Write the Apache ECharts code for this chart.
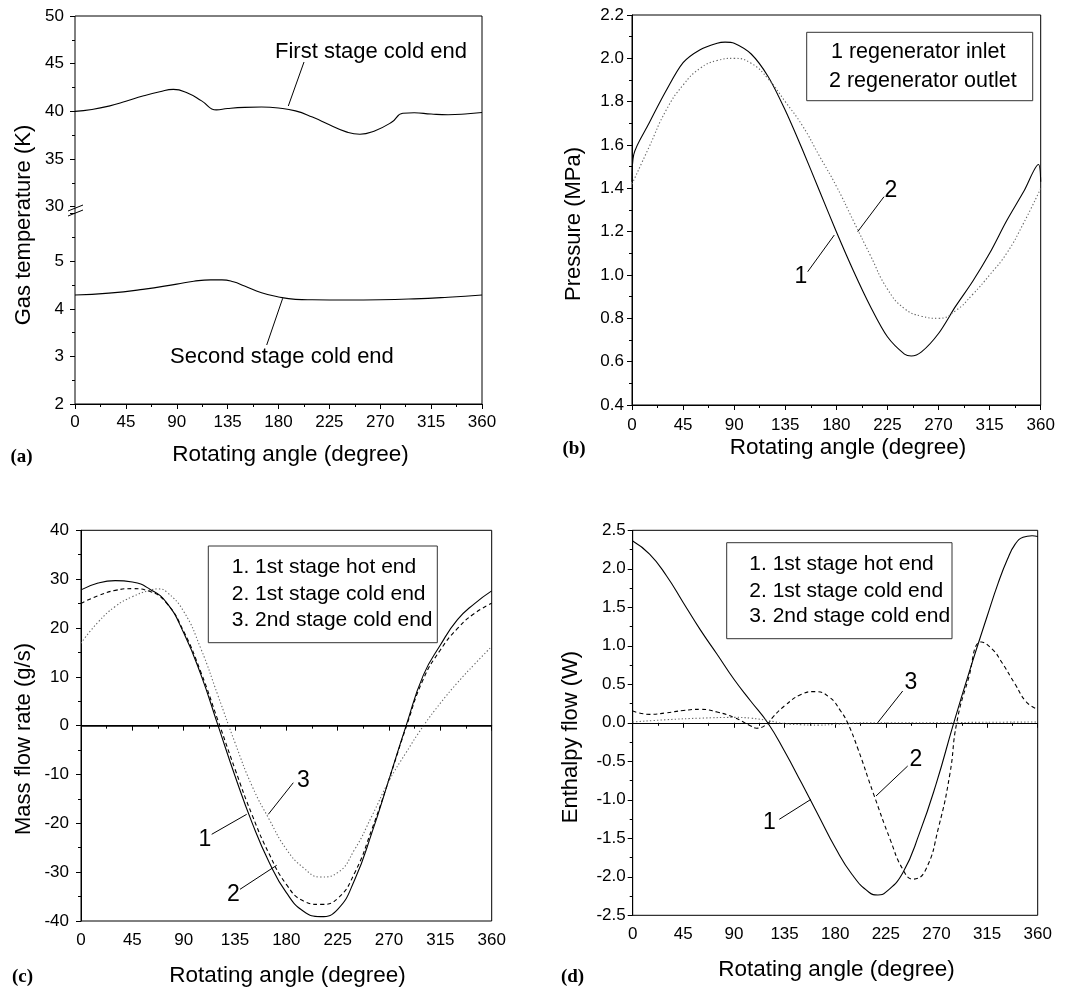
<!DOCTYPE html>
<html><head><meta charset="utf-8">
<script src="https://cdn.jsdelivr.net/npm/echarts@6/dist/echarts.min.js"></script>
<style>html,body{margin:0;padding:0;background:#fff}#c{width:1072px;height:992px}</style>
</head><body><div id="c"></div>
<script>
// ---------- DATA ----------
const xTickLabels = [0, 45, 90, 135, 180, 225, 270, 315, 360];

// (a) gas temperature
const aFirstX = [0,15,30,45,60,75,87,100,112,125,135,150,165,180,195,210,225,240,252,265,280,290,300,315,330,345,360];
const aFirstY = [40.0,40.2,40.55,41.05,41.6,42.05,42.3,41.9,41.1,40.15,40.3,40.42,40.45,40.35,40.05,39.4,38.6,37.85,37.6,37.95,38.85,39.8,39.85,39.72,39.65,39.72,39.88];
const aSecondX = [0,30,60,90,105,120,130,140,150,165,180,195,210,240,270,300,330,360];
const aSecondY = [4.29,4.33,4.41,4.52,4.58,4.61,4.61,4.57,4.48,4.34,4.25,4.20,4.19,4.185,4.19,4.21,4.245,4.29];

// (b) pressure
const bInletX = [0,1.5,15,30,45,60,75,82,90,105,120,135,150,165,180,195,210,225,240,246,255,270,285,300,315,330,345,358,360];
const bInletY = [1.43,1.555,1.70,1.85,1.98,2.04,2.07,2.075,2.07,2.02,1.915,1.76,1.58,1.39,1.20,1.02,0.855,0.715,0.635,0.626,0.645,0.73,0.855,0.97,1.10,1.25,1.385,1.51,1.43];
const bOutletX = [0,15,30,45,60,75,90,105,120,135,150,165,180,195,210,225,240,255,270,285,300,315,330,345,360];
const bOutletY = [1.42,1.59,1.76,1.877,1.954,1.99,2.0,1.977,1.905,1.80,1.69,1.55,1.41,1.25,1.09,0.935,0.845,0.81,0.80,0.835,0.91,1.0,1.10,1.24,1.40];

// (c) mass flow rate
const cX = [0,15,30,45,60,75,90,105,120,135,150,165,180,195,210,225,240,255,270,285,300,315,330,345,360];
const cHot1 = [27.8,29.2,29.7,29.4,28.0,25.2,19.0,10.5,0.1,-10.3,-19.9,-28.0,-34.2,-38.0,-39.1,-37.6,-31.5,-21.9,-11.0,0.0,10.3,16.5,21.7,25.0,27.6];
const cCold1 = [25.05,26.6,27.7,28.05,27.5,25.1,19.3,11.0,1.1,-8.9,-18.3,-26.3,-32.5,-35.9,-36.6,-35.4,-30.1,-21.2,-11.0,-0.3,9.5,15.5,19.9,23.0,25.05];
const cCold2X = [0,15,30,45,60,68,75,90,105,120,135,150,165,180,195,210,225,240,255,270,285,300,315,330,345,360];
const cCold2 = [16.9,21.2,24.4,26.4,27.7,28.0,27.4,23.4,15.8,6.2,-3.5,-12.4,-19.2,-25.3,-29.1,-31.0,-30.1,-25.3,-18.5,-11.3,-5.5,-0.1,4.6,8.8,12.6,16.2];

// (d) enthalpy flow
const dHotX = [0,15,30,45,60,75,90,105,120,135,150,165,180,195,210,218,225,240,255,270,285,300,315,325,333,340,347,355,360];
const dHotY = [2.36,2.19,1.91,1.56,1.21,0.89,0.565,0.28,0.0,-0.37,-0.78,-1.2,-1.62,-1.97,-2.2,-2.236,-2.2,-1.95,-1.43,-0.78,-0.02,0.7,1.38,1.82,2.12,2.32,2.41,2.43,2.42];
const dCold1X = [0,15,30,45,60,75,90,105,110,120,125,135,150,162,175,185,191,200,214,229,240,249,260,272,282,288,298,310,320,327,340,350,360];
const dCold1Y = [0.153,0.11,0.13,0.16,0.175,0.14,0.07,-0.04,-0.07,-0.01,0.08,0.22,0.37,0.405,0.33,0.15,0.0,-0.33,-0.92,-1.52,-1.9,-2.03,-1.92,-1.35,-0.66,0.0,0.55,1.05,0.95,0.81,0.5,0.27,0.175];
const dCold2X = [0,30,60,90,105,120,135,150,165,180,195,210,240,270,300,330,360];
const dCold2Y = [0.01,0.04,0.06,0.07,0.06,0.03,-0.01,-0.025,-0.03,-0.02,-0.005,0.0,0.0,0.0,0.005,0.008,0.01];

const legendB = ['1 regenerator inlet', '2 regenerator outlet'];
const legendCD = ['1. 1st stage hot end', '2. 1st stage cold end', '3. 2nd stage cold end'];
const xTitle = 'Rotating angle (degree)';
const yTitles = ['Gas temperature (K)', 'Pressure (MPa)', 'Mass flow rate (g/s)', 'Enthalpy flow (W)'];

// ---------- CHART ----------
const FONT = '"Liberation Sans", Arial, sans-serif';
const zip = (xs, ys) => xs.map((x, i) => [x, ys[i]]);

const SOLID = {color: '#000', width: 1.1, type: 'solid'};
const DASH = {color: '#000', width: 1.1, type: [4, 3]};
const DOT = {color: '#666', width: 1.1, type: [1.3, 2.2]};

function xAx(gi, show, margin) {
  return {
    type: 'value', gridIndex: gi, min: 0, max: 360, interval: 45, show: show,
    axisLine: {show: true, lineStyle: {color: '#000', width: 1}},
    axisTick: {show: true, length: 5, lineStyle: {color: '#000'}},
    minorTick: {show: true, splitNumber: 2, length: 3, lineStyle: {color: '#000'}},
    splitLine: {show: false}, minorSplitLine: {show: false},
    axisLabel: {color: '#000', fontSize: 17, fontFamily: FONT, margin: margin,
      formatter: v => xTickLabels.indexOf(v) >= 0 ? String(v) : ''}
  };
}
function yAx(gi, min, max, interval, margin, fmt, showLine) {
  return {
    type: 'value', gridIndex: gi, min: min, max: max, interval: interval,
    axisLine: {show: showLine !== false, lineStyle: {color: '#000', width: 1}},
    axisTick: {show: true, length: 5, lineStyle: {color: '#000'}},
    minorTick: {show: true, splitNumber: 2, length: 3, lineStyle: {color: '#000'}},
    splitLine: {show: false}, minorSplitLine: {show: false},
    axisLabel: {color: '#000', fontSize: 17, fontFamily: FONT, margin: margin, formatter: fmt}
  };
}
function line(xi, data, style, extra) {
  return Object.assign({
    type: 'line', xAxisIndex: xi, yAxisIndex: xi, data: data,
    showSymbol: false, symbol: 'none', smooth: 0.5,
    lineStyle: style, silent: true, z: 3
  }, extra || {});
}

const grids = [
  {left: 75, top: 16, width: 407, height: 190.7},
  {left: 75, top: 213.7, width: 407, height: 190.3},
  {left: 632, top: 15, width: 408.7, height: 390, show: true, borderColor: '#000', borderWidth: 1},
  {left: 81, top: 530.3, width: 410.7, height: 390.7, show: true, borderColor: '#000', borderWidth: 1},
  {left: 632.7, top: 530.3, width: 405, height: 385, show: true, borderColor: '#000', borderWidth: 1}
];

// graphic helpers
const T = (text, x, y, size, align, extra) => Object.assign({
  type: 'text', x: x, y: y, z: 100,
  style: {text: text, font: size + 'px ' + FONT, fill: '#000', align: align || 'center', verticalAlign: 'middle'}
}, extra || {});
const L = (x1, y1, x2, y2) => ({type: 'line', z: 100, shape: {x1, y1, x2, y2}, style: {stroke: '#000', lineWidth: 1}});
const R = (x, y, w, h, fill, stroke) => ({type: 'rect', z: 99, shape: {x, y, width: w, height: h}, style: {fill: fill, stroke: stroke, lineWidth: 1}});
const VT = (text, x, y) => T(text, x, y, 22, 'center', {rotation: Math.PI / 2});
const PL = (text, x, y) => ({type: 'text', x: x, y: y, z: 100,
  style: {text: text, font: 'bold 19px "Liberation Serif", "Times New Roman", serif', fill: '#000', align: 'center', verticalAlign: 'middle'}});

const graphics = [
  // panel (a) frame + axis break
  {type: 'rect', z: 1, shape: {x: 75, y: 16, width: 407, height: 388}, style: {fill: 'transparent', stroke: '#000', lineWidth: 1}},
  L(68, 211, 83, 205), L(68, 216, 83, 210),
  // axis titles
  T(xTitle, 290.5, 455, 22.5), T(xTitle, 848, 448, 22.5), T(xTitle, 287.5, 976, 22.5), T(xTitle, 836.5, 969.5, 22.5),
  VT(yTitles[0], 23.5, 225), VT(yTitles[1], 573.5, 224), VT(yTitles[2], 23.5, 739), VT(yTitles[3], 571, 737),
  PL('(a)', 21.5, 457), PL('(b)', 574, 449), PL('(c)', 22.5, 977), PL('(d)', 572.5, 977),
  // (a) annotations
  T('First stage cold end', 275, 52, 22, 'left'), L(304, 62, 288.3, 106),
  T('Second stage cold end', 170, 357, 22, 'left'), L(266.7, 345, 282.7, 298.3),
  // (b) legend + annotations
  R(806.7, 32.3, 226, 68.4, '#fff', '#333'),
  T(legendB[0], 831, 52.3, 21.5, 'left'), T(legendB[1], 829, 81, 21.5, 'left'),
  T('2', 891, 191, 23), L(884, 196.7, 857.7, 231.7),
  T('1', 801, 277, 23), L(807.7, 271.7, 834.3, 235),
  // (c) legend + annotations
  R(208.3, 546, 229, 96.7, '#fff', '#333'),
  T(legendCD[0], 231.7, 567, 21, 'left'), T(legendCD[1], 231.7, 594, 21, 'left'), T(legendCD[2], 231.7, 620.5, 21, 'left'),
  T('3', 303.3, 781, 23), L(293.3, 782.7, 268.3, 814.3),
  T('1', 205, 839.3, 23), L(211.7, 834.3, 246.7, 814.3),
  T('2', 233.3, 894.3, 23), L(240, 889.3, 276.7, 865.3),
  // (d) legend + annotations
  R(726.7, 542.7, 225.3, 96, '#fff', '#333'),
  T(legendCD[0], 749.3, 564.3, 21, 'left'), T(legendCD[1], 749.3, 591, 21, 'left'), T(legendCD[2], 749.3, 616.7, 21, 'left'),
  T('3', 911, 682.7, 23), L(902.7, 691, 877.7, 722.7),
  T('2', 916, 759.3, 23), L(907.7, 766, 876, 796),
  T('1', 769.3, 822.7, 23), L(779.3, 819.3, 811, 799.3)
];

const option = {
  animation: false,
  backgroundColor: '#fff',
  grid: grids,
  xAxis: [xAx(0, false, 10), xAx(1, true, 10), xAx(2, true, 12), xAx(3, true, 11), xAx(4, true, 11)],
  yAxis: [
    yAx(0, 30, 50, 5, 11, v => String(v), false),
    yAx(1, 2, 6, 1, 11, v => v === 6 ? '' : String(v), false),
    yAx(2, 0.4, 2.2, 0.2, 8, v => v.toFixed(1)),
    yAx(3, -40, 40, 10, 12, v => String(v)),
    yAx(4, -2.5, 2.5, 0.5, 7, v => v.toFixed(1))
  ],
  series: [
    line(0, zip(aFirstX, aFirstY), SOLID),
    line(1, zip(aSecondX, aSecondY), SOLID),
    line(2, zip(bInletX, bInletY), SOLID, {smooth: 0.3}),
    line(2, zip(bOutletX, bOutletY), DOT),
    line(3, zip(cX, cHot1), SOLID, {markLine: {silent: true, symbol: 'none', label: {show: false},
      lineStyle: {color: '#000', width: 1.5, type: 'solid'}, data: [{yAxis: 0}]}}),
    line(3, zip(cX, cCold1), DASH),
    line(3, zip(cCold2X, cCold2), DOT),
    line(4, zip(dHotX, dHotY), SOLID),
    line(4, zip(dCold1X, dCold1Y), DASH),
    line(4, zip(dCold2X, dCold2Y), DOT)
  ],
  graphic: graphics
};

const chart = echarts.init(document.getElementById('c'), null, {renderer: 'canvas'});
chart.setOption(option);
</script></body></html>
